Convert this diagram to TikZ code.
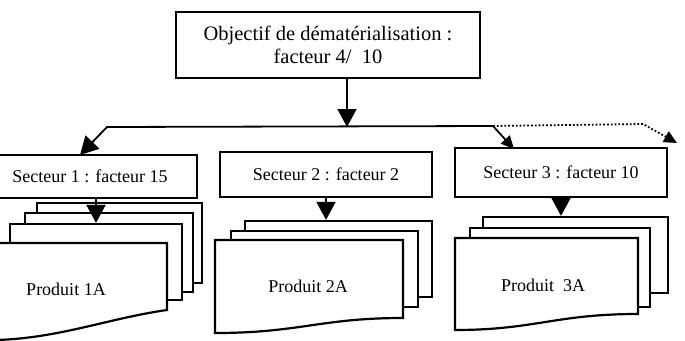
\documentclass[tikz,border=0pt]{standalone}
\usepackage{fontspec}
\setmainfont{Liberation Serif}
\usetikzlibrary{arrows.meta, positioning, calc}

\begin{document}
\begin{tikzpicture}[x=1pt, y=-1pt, line width=2.2pt,
  font=\fontsize{18}{21}\selectfont,
  box/.style={draw, fill=white, rectangle, inner sep=0pt},
  sheet/.style={draw, fill=white, rectangle, inner sep=0pt},
  bigarr/.style={line width=1.8pt, -{Triangle[width=19pt,length=18pt]}},
  smallarr/.style={line width=1.8pt, -{Triangle[width=12pt,length=13pt]}}]
\useasboundingbox (0,0) rectangle (685,340);

% objectif
\node[box, minimum width=304pt, minimum height=66pt, align=center,
  font=\fontsize{20.5}{23}\selectfont] (obj) at (328,45)
  {Objectif de dématérialisation :\\facteur 4/~ 10};

\coordinate (hub) at (347,127);
\coordinate (lft) at (107,127);
\coordinate (rgt) at (493,126);
\coordinate (dot) at (643,124);
\coordinate (endR) at (677,143);
\coordinate (s1in) at (80,155);
\coordinate (s3in) at (514,149);

% secteurs
\node[box, minimum width=214pt, minimum height=43pt] (sec1) at (90,176.5) {Secteur 1 : facteur 15};
\node[box, minimum width=212pt, minimum height=45pt] (sec2) at (326,174.5) {Secteur 2 : facteur 2};
\node[box, minimum width=212pt, minimum height=49pt] (sec3) at (561,172.5) {Secteur 3 : facteur 10};

% produits, secteur 1
\node[sheet, minimum width=165pt, minimum height=80pt] (p1d) at (119.5,243) {};
\node[sheet, minimum width=168pt, minimum height=79pt] (p1c) at (109,252.5) {};
\node[sheet, minimum width=172pt, minimum height=76pt] (p1b) at (96,262) {};
\draw[fill=white] (-3,243) -- (167,243) -- (167,310)
  .. controls (110,318) and (60,338) .. (-3,340) -- cycle;
\node (p1a) at (66,289) {Produit 1A};

% produits, secteur 2
\node[sheet, minimum width=187pt, minimum height=76pt] (p2c) at (338.5,259) {};
\node[sheet, minimum width=187pt, minimum height=76pt] (p2b) at (324.5,269) {};
\draw[fill=white] (215,240) -- (403,240) -- (403,318)
  .. controls (320,318) and (300,333) .. (215,333) -- cycle;
\node (p2a) at (308,286) {Produit 2A};

% produits, secteur 3
\node[sheet, minimum width=185pt, minimum height=76pt] (p3c) at (575.5,255) {};
\node[sheet, minimum width=180pt, minimum height=79pt] (p3b) at (560,267.5) {};
\draw[fill=white] (455,238) -- (638,238) -- (638,314)
  .. controls (555,314) and (535,330) .. (455,330) -- cycle;
\node (p3a) at (543,285) {Produit~ 3A};

% fleches
\draw[bigarr] (obj.south -| hub) -- (hub);
\draw[bigarr] (rgt) -- (lft) -- (s1in);
\draw[smallarr] (rgt) -- (s3in);
\draw[smallarr, dotted, line width=1.8pt] (rgt) -- (dot) -- (endR);
\draw[bigarr] (sec1.south -| p1b.north) -- (p1b.north);
\draw[bigarr] (sec2.south) -- (sec2.south |- p2c.north);
\draw[bigarr] (sec3.south) -- (sec3.south |- p3c.north);
\end{tikzpicture}
\end{document}
